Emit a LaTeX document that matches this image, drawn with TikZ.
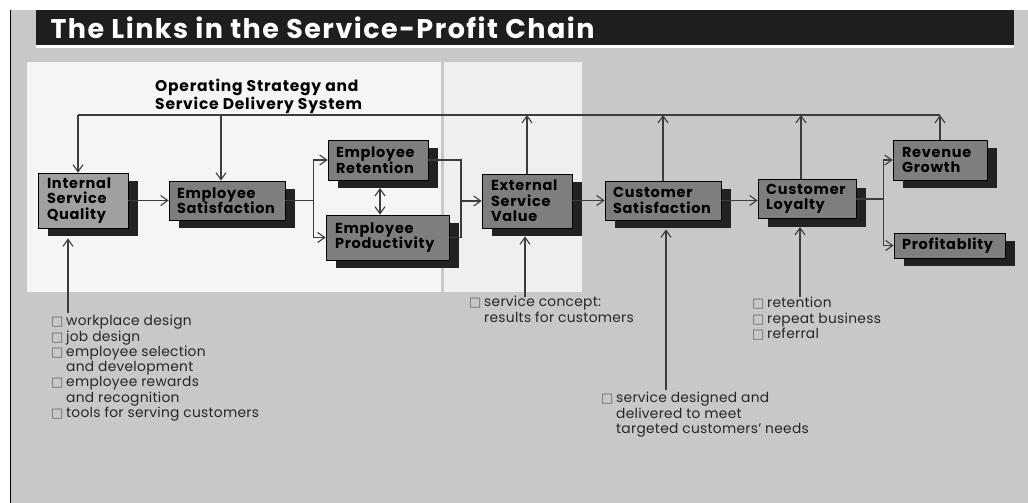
\documentclass[tikz,border=0pt]{standalone}
\usepackage{fontspec}
\setmainfont{Poppins}
\newfontfamily\symfont{DejaVu Sans}
\usepackage{xcolor}
\usetikzlibrary{arrows.meta, positioning, calc, shadows}

\definecolor{panelgray}{HTML}{C8C8C8}
\definecolor{lightpanel}{HTML}{F5F5F5}
\definecolor{lightpanelb}{HTML}{EFEFEF}
\definecolor{boxgray}{HTML}{7E7E7E}
\definecolor{boxlight}{HTML}{A0A0A0}
\definecolor{shadowgray}{HTML}{222222}
\definecolor{linegray}{HTML}{3C3C3C}
\definecolor{titlebar}{HTML}{1E1E1E}

\newcommand{\chk}{\makebox[15pt][l]{\symfont\fontsize{13}{13}\selectfont\color{black!60}□}}
\newcommand{\ind}{\hspace*{15pt}}

\begin{document}
\begin{tikzpicture}[
        x=1pt, y=-1pt,
        >={Straight Barb[length=7pt,width=10pt]},
        block/.style={
            rectangle,
            draw=black,
            line width=0.8pt,
            fill=boxgray,
            inner xsep=8pt,
            inner ysep=2pt,
            align=left,
            font=\fontsize{14.5}{15.5}\selectfont\bfseries\addfontfeature{LetterSpace=5},
            general shadow={fill=shadowgray, shadow xshift=10pt, shadow yshift=-8pt}
        },
        link/.style={
            line width=1.1pt,
            linegray
        },
        arrow/.style={
            ->,
            line width=1.1pt,
            linegray
        },
        note/.style={
            align=left,
            inner sep=0pt,
            text=black!85,
            font=\fontsize{13.8}{15.3}\selectfont\addfontfeature{LetterSpace=2}
        }
    ]
    \useasboundingbox (0,0) rectangle (1028,503);

    % Page and title bar
    \fill[white] (0,0) rectangle (1028,503);
    \fill[panelgray] (10,10) rectangle (1028,503);
    \draw[black, line width=1.2pt] (10.6,10) -- (10.6,503);
    \fill[titlebar] (36,10) rectangle (1014,45);
    \fill[white] (36,45) rectangle (1014,48);
    \node[anchor=west, text=white, font=\fontsize{27}{27}\selectfont\bfseries\addfontfeature{LetterSpace=5.5}] (title) at (47,28) {The Links in the Service-Profit Chain};

    % Light panels
    \fill[lightpanel] (27,62) rectangle (441,292);
    \fill[lightpanelb] (444,62) rectangle (582,292);
    \node[anchor=north west, align=left, inner sep=0pt, font=\fontsize{15.5}{16}\selectfont\bfseries\addfontfeature{LetterSpace=5}] (strategy) at (155,79) {Operating Strategy and\\Service Delivery System};

    % Employee side
    \node[block, fill=boxlight, minimum width=90pt, minimum height=55pt, text width=72pt] (isq) at (83,200.5) {Internal\\Service\\Quality};
    \node[block, minimum width=116pt, minimum height=39pt, text width=100pt] (es) at (227,200.5) {Employee\\Satisfaction};
    \node[block, minimum width=100pt, minimum height=40pt, text width=84pt] (er) at (378,160) {Employee\\Retention};
    \node[block, minimum width=123pt, minimum height=45pt, text width=105pt] (ep) at (387.5,237.5) {Employee\\Productivity};

    % Customer side
    \node[block, minimum width=90pt, minimum height=54pt, text width=72pt] (esv) at (527,201) {External\\Service\\Value};
    \node[block, minimum width=112pt, minimum height=39pt, text width=100pt] (cs) at (663,200.5) {Customer\\Satisfaction};
    \node[block, minimum width=98pt, minimum height=39pt, text width=82pt] (cl) at (807,199) {Customer\\Loyalty};
    \node[block, minimum width=94pt, minimum height=40pt, text width=76pt] (rg) at (940,160) {Revenue\\Growth};
    \node[block, minimum width=109pt, minimum height=25pt, text width=95pt] (pr) at (949.5,245.5) {Profitablity};

    % Feedback loop
    \coordinate (loopL) at (78,115);
    \coordinate (esdrop) at (221,115);
    \coordinate (clrise) at (801,115);
    \draw[link] (loopL) -- (rg.north |- loopL);
    \draw[arrow] (loopL) -- (loopL |- isq.north);
    \draw[arrow] (esdrop) -- (esdrop |- es.north);
    \draw[arrow] (esv.north) -- (esv.north |- loopL);
    \draw[arrow] (cs.north) -- (cs.north |- loopL);
    \draw[arrow] (clrise |- cl.north) -- (clrise);
    \draw[arrow] (rg.north) -- (rg.north |- loopL);

    % Chain arrows
    \draw[arrow] (isq) -- (es);
    \draw[link] (es.east) -- ++(28,0) coordinate (split1);
    \draw[arrow] (split1) |- (er.west);
    \draw[arrow] (split1) |- (ep.west);
    \coordinate (swap) at (380,188);
    \draw[<->, line width=1.1pt, linegray] (swap) -- (swap |- ep.north);
    \coordinate (merge) at (461,201);
    \draw[link] (er.east) -| (merge);
    \draw[link] (ep.east) -| (merge);
    \draw[arrow] (merge) -- (merge -| esv.west);
    \draw[arrow] (esv.east |- cs.east) -- (cs.west);
    \draw[arrow] (cs.east) -- (cs.east -| cl.west);
    \draw[link] (cl.east) -- ++(27,0) coordinate (split2);
    \draw[arrow] (split2) |- (rg.west);
    \draw[arrow] (split2) |- (pr.west);

    % Driver notes
    \coordinate (isqin) at (68,313);
    \coordinate (esvin) at (525,297);
    \coordinate (csin) at (666,390);
    \coordinate (clin) at (800,297);
    \draw[arrow] (isqin) -- ($(isqin |- isq.south)+(0,10)$);
    \draw[arrow] (esvin) -- ($(esvin |- esv.south)+(0,8)$);
    \draw[arrow] (csin) -- ($(csin |- cs.south)+(0,9)$);
    \draw[arrow] (clin) -- ($(clin |- cl.south)+(0,8)$);

    \node[note, anchor=north west] (qualitylist) at (51,315) {\chk workplace design\\\chk job design\\\chk employee selection\\\ind and development\\\chk employee rewards\\\ind and recognition\\\chk tools for serving customers};
    \node[note, anchor=north west] (valuelist) at (469,296) {\chk service concept:\\\ind results for customers};
    \node[note, anchor=north west] (satlist) at (601,392) {\chk service designed and\\\ind delivered to meet\\\ind targeted customers’ needs};
    \node[note, anchor=north west] (loyaltylist) at (752,297) {\chk retention\\\chk repeat business\\\chk referral};

\end{tikzpicture}
\end{document}
